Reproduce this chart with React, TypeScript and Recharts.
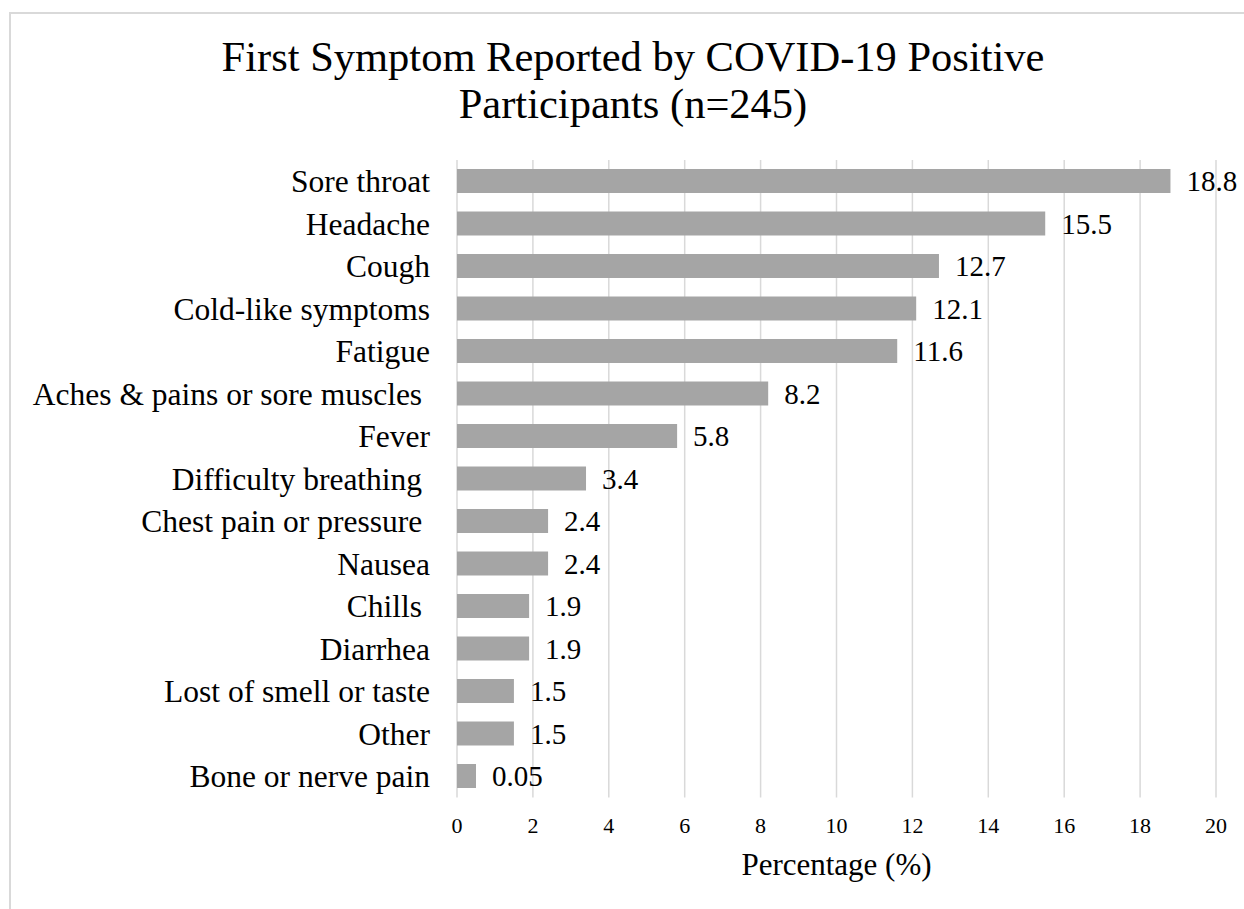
import { BarChart, Bar, XAxis, YAxis, CartesianGrid, LabelList } from 'recharts';

const symptoms = [
  'Sore throat',
  'Headache',
  'Cough',
  'Cold-like symptoms',
  'Fatigue',
  'Aches & pains or sore muscles\u00A0',
  'Fever',
  'Difficulty breathing\u00A0',
  'Chest pain or pressure\u00A0',
  'Nausea',
  'Chills\u00A0',
  'Diarrhea',
  'Lost of smell or taste',
  'Other',
  'Bone or nerve pain',
];

// bar lengths as drawn
const percents = [18.8, 15.5, 12.7, 12.1, 11.6, 8.2, 5.8, 3.4, 2.4, 2.4, 1.9, 1.9, 1.5, 1.5, 0.5];

// printed labels (the last one is printed as 0.05 in the source)
const valueLabels = ['18.8', '15.5', '12.7', '12.1', '11.6', '8.2', '5.8', '3.4', '2.4', '2.4', '1.9', '1.9', '1.5', '1.5', '0.05'];

const xTicks = [0, 2, 4, 6, 8, 10, 12, 14, 16, 18, 20];

const serif = '"Liberation Serif", "Times New Roman", serif';

export default function App() {
  const data = symptoms.map((name, i) => ({
    name,
    value: percents[i],
    label: valueLabels[i],
  }));

  return (
    <div
      style={{
        position: 'fixed',
        left: 0,
        top: 0,
        width: 1244,
        height: 909,
        overflow: 'hidden',
        background: '#fff',
        fontFamily: serif,
      }}
    >
      {/* chart frame, only top and left edges are visible */}
      <div
        style={{
          position: 'absolute',
          left: 9,
          top: 12,
          width: 1400,
          height: 1100,
          borderTop: '2px solid #d9d9d9',
          borderLeft: '2px solid #d9d9d9',
        }}
      />
      <div
        style={{
          position: 'absolute',
          left: 11,
          top: 33,
          width: 1244,
          textAlign: 'center',
          fontSize: 42.5,
          lineHeight: '47px',
          color: '#000',
        }}
      >
        First Symptom Reported by COVID-19 Positive
        <br />
        Participants (n=245)
      </div>
      <div style={{ position: 'absolute', left: 0, top: 0 }}>
        <BarChart
          layout="vertical"
          width={1244}
          height={909}
          data={data}
          margin={{ top: 160, right: 28, bottom: 29, left: 0 }}
        >
          <CartesianGrid horizontal={false} stroke="#d9d9d9" strokeWidth={1.5} />
          <XAxis
            type="number"
            domain={[0, 20]}
            ticks={xTicks}
            height={82.5}
            axisLine={false}
            tickLine={false}
            tickMargin={14}
            tick={{ fill: '#000', fontSize: 22, fontFamily: serif }}
            label={{
              value: 'Percentage (%)',
              position: 'insideBottom',
              offset: 5,
              fill: '#000',
              fontSize: 31,
              fontFamily: serif,
            }}
          />
          <YAxis
            type="category"
            dataKey="name"
            width={457}
            axisLine={false}
            tickLine={false}
            tickMargin={21}
            interval={0}
            tick={{ fill: '#000', fontSize: 31.5, fontFamily: serif }}
          />
          <Bar dataKey="value" fill="#a5a5a5" barSize={24} isAnimationActive={false}>
            <LabelList
              dataKey="label"
              position="right"
              offset={16}
              fill="#000"
              fontSize={29}
              fontFamily={serif}
            />
          </Bar>
        </BarChart>
      </div>
    </div>
  );
}
